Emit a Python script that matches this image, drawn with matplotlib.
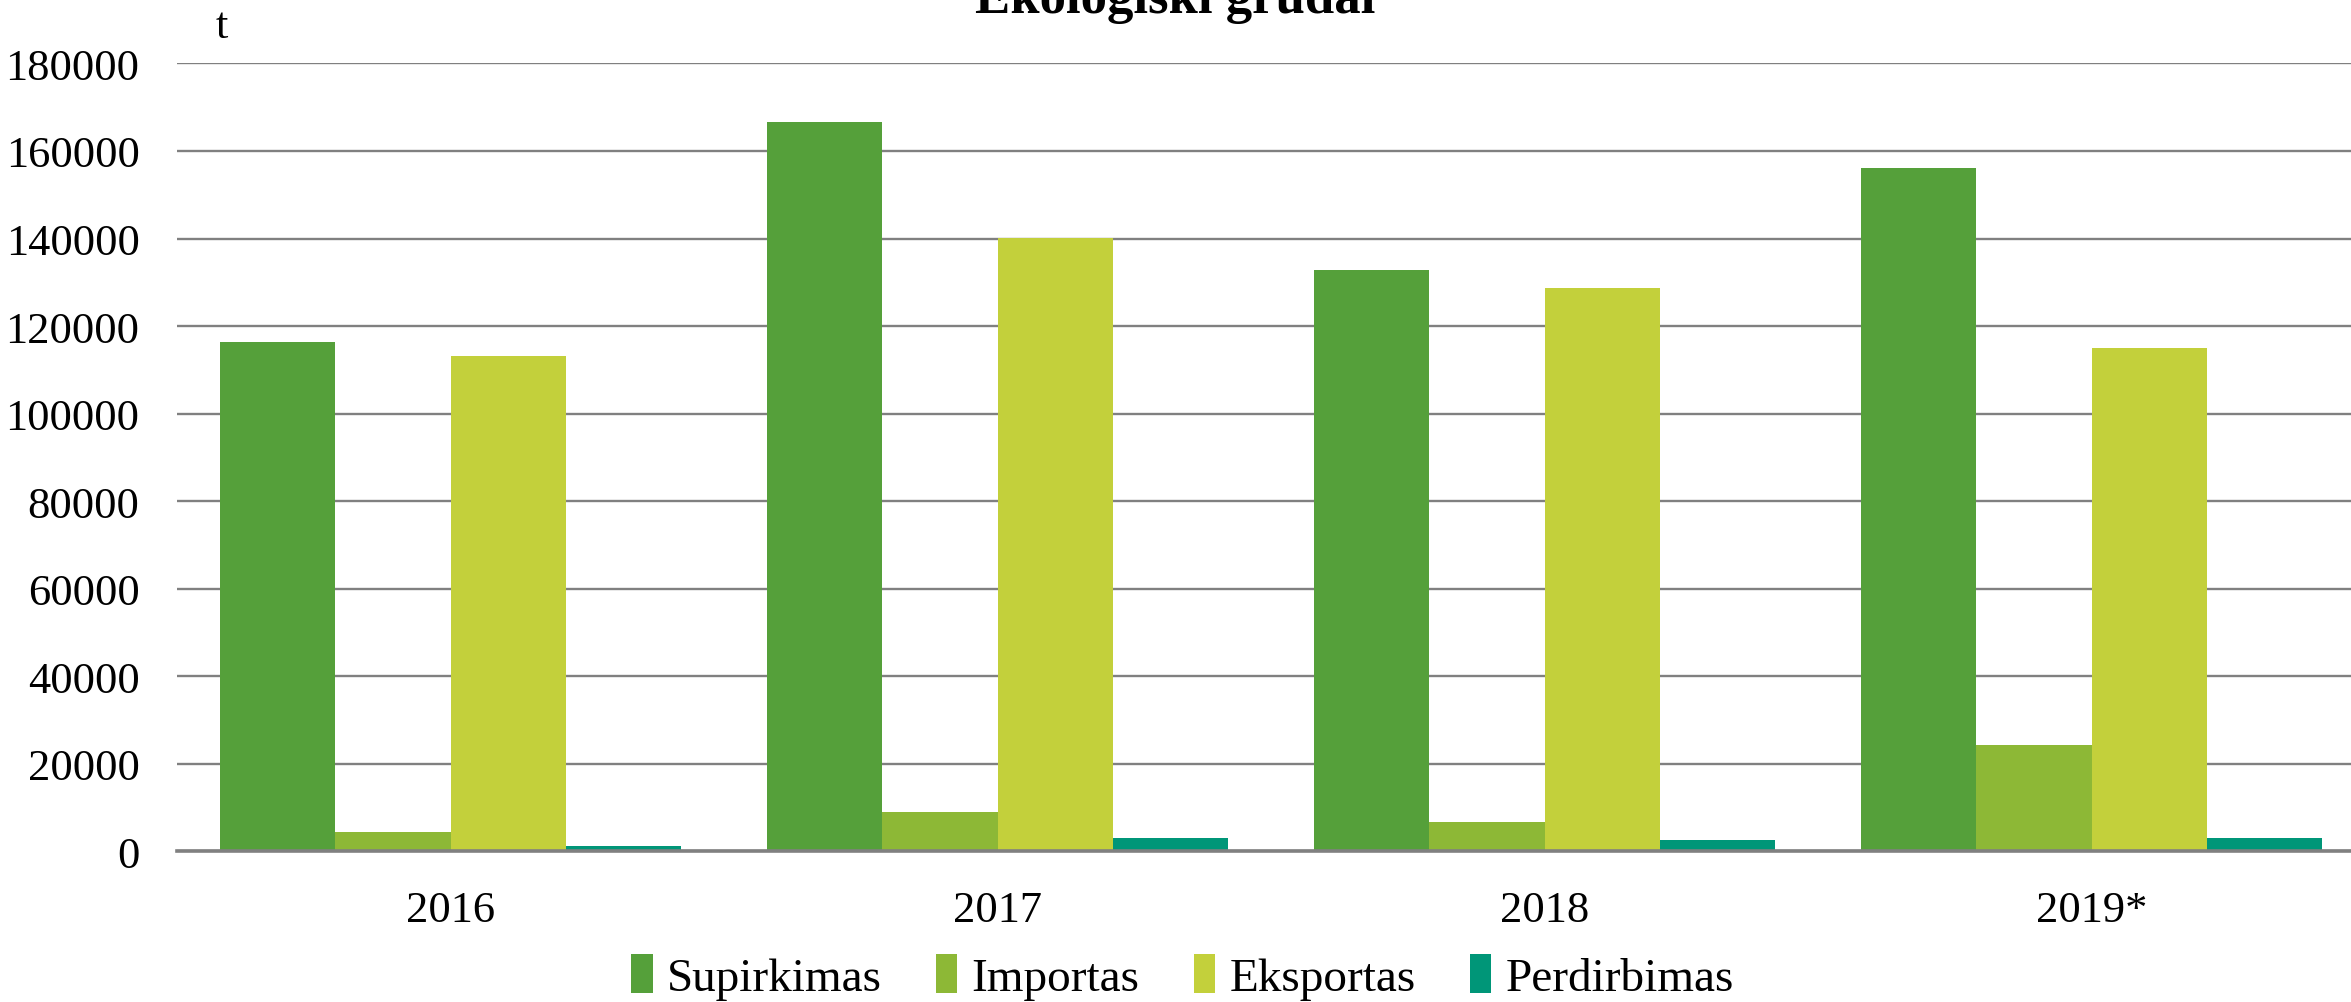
# Organic grain (Ekologiški grūdai): purchase, import, export, processing by year
import matplotlib.pyplot as plt
import numpy as np

plt.rcParams['font.family'] = ['Liberation Serif', 'DejaVu Serif']

years = ['2016', '2017', '2018', '2019*']
supirkimas = [116300, 166600, 132700, 156100]
importas = [4300, 8850, 6550, 24300]
eksportas = [113100, 140200, 128800, 114900]
perdirbimas = [1050, 2900, 2450, 2900]

series = [('Supirkimas', supirkimas, '#55A03A'),
          ('Importas', importas, '#8DB836'),
          ('Eksportas', eksportas, '#C3D03B'),
          ('Perdirbimas', perdirbimas, '#009678')]

fig = plt.figure(figsize=(23.51, 10.03), dpi=100)
# the plot area runs a bit past the right edge of the image, as in the original
ax = fig.add_axes([0.0753, 0.1505, 0.9307, 0.7852])

x = np.arange(len(years))
w = 0.2105
for i, (name, vals, col) in enumerate(series):
    ax.bar(x + (i - 1.5) * w, vals, width=w, color=col, label=name, zorder=3)

ax.set_xlim(-0.5, len(years) - 0.5)
ax.set_ylim(0, 180000)
ax.set_yticks(range(0, 180001, 20000))
ax.set_xticks(x)
ax.set_xticklabels(years)
ax.yaxis.grid(True, color='#808080', linewidth=1.7, zorder=0)
ax.tick_params(axis='both', length=0, labelsize=32)
ax.tick_params(axis='x', pad=28)
ax.tick_params(axis='y', pad=27)
for s in ['left', 'right', 'top']:
    ax.spines[s].set_visible(False)
ax.spines['bottom'].set_color('#808080')
ax.spines['bottom'].set_linewidth(2.6)
ax.spines['bottom'].set_zorder(4)

fig.text(0.0945, 0.973, 't', fontsize=32, ha='center', va='center')
fig.text(0.5, 0.987, 'Ekologiški grūdai', fontsize=38, fontweight='bold',
         ha='center', va='baseline')

fig.legend(loc='center', bbox_to_anchor=(0.503, 0.025), ncol=4, frameon=False,
           fontsize=34, handlelength=0.45, handleheight=0.9, handletextpad=0.3,
           columnspacing=1.15)

fig.savefig('out.png', dpi=100)
